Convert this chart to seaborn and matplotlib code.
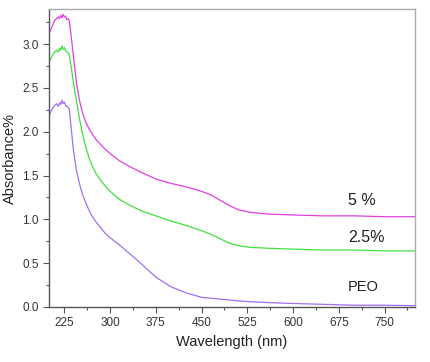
import numpy as np
import pandas as pd
import matplotlib
matplotlib.use("Agg")
import matplotlib.pyplot as plt
import seaborn as sns
from matplotlib.ticker import MultipleLocator, FixedLocator

# wavelength grid (nm) and absorbance
wavelength = [200, 203, 206, 209, 212, 215, 217, 219, 221, 223, 225, 227, 229, 231, 233,
              236, 240, 245, 250, 255, 260, 265, 270, 277, 285, 292, 300, 315, 330, 350, 375,
              400, 425, 450, 465, 480, 495, 510, 530, 560, 600, 650, 700, 750, 800]

abs_5 = [3.12, 3.17, 3.22, 3.27, 3.29, 3.31, 3.29, 3.33, 3.30, 3.34, 3.31, 3.32, 3.28, 3.29, 3.27,
         3.10, 2.85, 2.55, 2.35, 2.21, 2.11, 2.04, 1.98, 1.91, 1.85, 1.80, 1.75, 1.67, 1.61, 1.54, 1.46,
         1.41, 1.37, 1.32, 1.28, 1.22, 1.16, 1.11, 1.08, 1.06, 1.05, 1.04, 1.04, 1.03, 1.03]

abs_25 = [2.80, 2.84, 2.88, 2.91, 2.93, 2.91, 2.95, 2.93, 2.98, 2.94, 2.96, 2.92, 2.91, 2.90, 2.88,
          2.75, 2.55, 2.35, 2.14, 1.97, 1.83, 1.71, 1.62, 1.52, 1.44, 1.38, 1.32, 1.23, 1.17, 1.10, 1.04,
          0.98, 0.93, 0.87, 0.83, 0.78, 0.73, 0.70, 0.68, 0.67, 0.66, 0.65, 0.65, 0.64, 0.64]

abs_peo = [2.19, 2.23, 2.27, 2.30, 2.32, 2.29, 2.33, 2.31, 2.36, 2.32, 2.34, 2.30, 2.29, 2.28, 2.26,
           2.05, 1.78, 1.55, 1.40, 1.28, 1.19, 1.11, 1.04, 0.97, 0.90, 0.84, 0.79, 0.71, 0.62, 0.50, 0.34,
           0.23, 0.16, 0.11, 0.10, 0.09, 0.08, 0.07, 0.06, 0.05, 0.04, 0.03, 0.02, 0.02, 0.015]

series = ["5 %", "2.5%", "PEO"]
colors = ["#e040e0", "#40e040", "#a070f0"]

df = pd.DataFrame({
    "wavelength": wavelength * 3,
    "absorbance": abs_5 + abs_25 + abs_peo,
    "sample": [s for s in series for _ in wavelength],
})

sns.set_style("white")
plt.rcParams["font.family"] = ["Liberation Sans", "DejaVu Sans"]

fig = plt.figure(figsize=(4.31, 3.62), dpi=100)
ax = fig.add_axes([0.114, 0.152, 0.849, 0.823])

sns.lineplot(data=df, x="wavelength", y="absorbance", hue="sample",
             palette=dict(zip(series, colors)), linewidth=0.9, ax=ax, legend=False)

ax.set_xlim(200, 800)
ax.set_ylim(0, 3.4)
ax.set_xticks([225, 300, 375, 450, 525, 600, 675, 750])
ax.xaxis.set_minor_locator(FixedLocator(np.arange(262.5, 800, 75)))
ax.yaxis.set_major_locator(MultipleLocator(0.5))
ax.yaxis.set_minor_locator(MultipleLocator(0.25))
ax.tick_params(axis="both", which="major", direction="out", length=4, width=0.8,
               color="#555555", labelsize=8.5, labelcolor="#333333", bottom=True, left=True)
ax.tick_params(axis="both", which="minor", direction="out", length=2.5, width=0.8,
               color="#555555", bottom=True, left=True)

for side in ["left", "bottom"]:
    ax.spines[side].set_color("#555555")
    ax.spines[side].set_linewidth(1.0)
for side in ["top", "right"]:
    ax.spines[side].set_color("#aaaaaa")
    ax.spines[side].set_linewidth(1.0)

ax.set_xlabel("Wavelength (nm)", fontsize=10.5, color="#222222", labelpad=4)
ax.set_ylabel("Absorbance%", fontsize=10.5, color="#222222", labelpad=4)

ax.text(690, 1.22, "5 %", fontsize=11.5, color="#222222", va="center")
ax.text(690, 0.79, "2.5%", fontsize=11.5, color="#222222", va="center")
ax.text(690, 0.23, "PEO", fontsize=10.5, color="#222222", va="center")

fig.savefig("out.png", dpi=100)
